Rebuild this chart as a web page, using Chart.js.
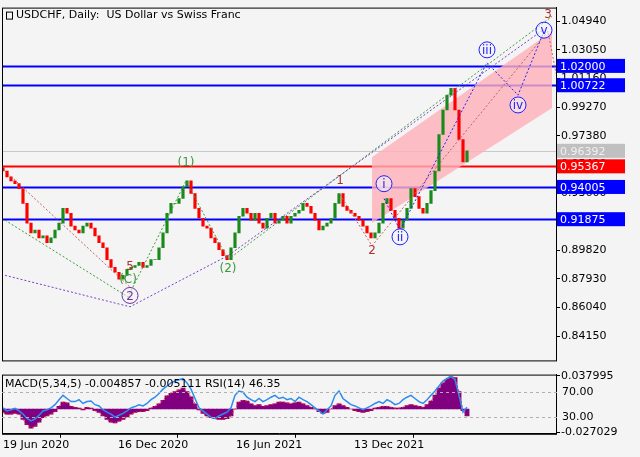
<!DOCTYPE html>
<html>
<head>
<meta charset="utf-8">
<script src="https://cdn.jsdelivr.net/npm/chart.js@4.4.1/dist/chart.umd.min.js"></script>
<style>
  html, body { margin: 0; padding: 0; background: #f4f4f4; }
  #wrap { width: 640px; height: 457px; position: relative; }
  #top { position: absolute; left: 0; top: 0; }
  #bot { position: absolute; left: 0; top: 367px; }
</style>
</head>
<body>
<div id="wrap">
  <canvas id="top" width="640" height="368"></canvas>
  <canvas id="bot" width="640" height="90"></canvas>
</div>
<script>
// closes, one per bar
const closes = [
  0.9506,0.9467,0.9441,0.9422,0.9389,0.9292,0.9162,0.9097,0.9116,0.9064,
  0.9077,0.9032,0.9064,0.9116,0.9162,0.9259,0.9227,0.9142,0.9116,0.9097,
  0.9142,0.9162,0.9129,0.9077,0.9032,0.8999,0.8921,0.8869,0.8837,0.8791,
  0.8817,0.8856,0.8869,0.8882,0.8902,0.8869,0.8882,0.8921,0.8921,0.8999,
  0.9097,0.9227,0.9292,0.9292,0.9324,0.9402,0.9441,0.9357,0.9259,0.9194,
  0.9142,0.9129,0.9064,0.9032,0.8986,0.8947,0.8921,0.8999,0.9097,0.9207,
  0.9259,0.9227,0.9181,0.9227,0.9162,0.9129,0.9194,0.9227,0.9162,0.9181,
  0.9207,0.9162,0.9207,0.9227,0.9246,0.9292,0.9272,0.9227,0.9181,0.9116,
  0.9142,0.9162,0.9194,0.9292,0.9357,0.9272,0.9246,0.9227,0.9207,0.9181,
  0.9142,0.9097,0.9064,0.9097,0.9162,0.9292,0.9324,0.9246,0.9194,0.9129,
  0.9181,0.9259,0.9389,0.9337,0.9259,0.9227,0.9292,0.9376,0.9506,0.9747,
  0.9909,1.0007,1.0052,0.9909,0.9714,0.9565,0.9639
];
const macdHist = [
  -0.004,-0.006,-0.006,-0.005,-0.006, -0.012,-0.018,-0.022,-0.02,-0.015,
  -0.01,-0.008,-0.006,-0.003, 0.003,0.008,0.007,0.003,
  0.002,0.001,-0.001,0.002,0.001,-0.002,-0.004,
  -0.008,-0.012,-0.015,-0.016,-0.014,-0.012,-0.009,
  -0.006,-0.004,-0.003,-0.003,-0.002,0.001,
  0.003,0.006,0.01,0.015,0.018, 0.02,0.022,0.024,0.02,0.014,
  0.006,-0.001,-0.005,-0.008, -0.01,-0.011,-0.012,-0.012,-0.011,-0.008,
  0.0,0.008,0.01,0.009,0.006, 0.004,0.005,0.003,0.004,0.005,
  0.006,0.008,0.008,0.007,0.006,0.007,0.008,0.006,
  0.004,0.002,0.0,-0.003,-0.005,-0.004,0.0, 0.004,0.006,0.004,0.002,0.0,
  -0.002,-0.003,-0.004,-0.003,-0.002, 0.001,0.002,0.003,0.003,0.002,0.001,
  0.001,0.002,0.004,0.005,0.004,0.003,0.002, 0.005,0.009,0.016,0.024,0.03,
  0.034,0.037,0.036,0.02,-0.002,-0.008
];
const rsi = [
  45,40,42,44,40, 35,28,24,27,33, 40,42,45,50, 58,65,60,55,
  55,58,52,55,56,50,48, 42,38,35,30,33,36,40, 45,47,50,48,52,58,
  62,68,75,80,85, 88,90,92,85,75, 60,45,40,35, 30,28,32,35,38,45,
  65,72,70,62,58, 55,60,55,58,62, 65,60,62,58,60,55,62,58,
  55,50,45,40,35,42,48, 65,72,60,55,50, 48,45,42,45,48,
  52,55,52,58,55,50, 52,58,62,65,60,55,52, 58,65,72,80,88,
  92,95,90,65,38,46
];
const priceTicks = [1.0494,1.0305,1.0116,0.9927,0.9738,0.9549,0.936,0.9171,0.8982,0.8793,0.8604,0.8415];
const dateTicks = [0, 28.75, 58.25, 87.75];
const dateLabels = ['19 Jun 2020', '16 Dec 2020', '16 Jun 2021', '13 Dec 2021'];
const levels = [
  { v: 1.02000, c: '#0000ff' }, { v: 1.00722, c: '#0000ff' },
  { v: 0.96392, c: '#c0c0c0', gray: true },
  { v: 0.95367, c: '#ff0000' }, { v: 0.94005, c: '#0000ff' }, { v: 0.91875, c: '#0000ff' }
];
const channelTop = [[92.25, 0.9597], [137.25, 1.0429]];
const channelBot = [[92.25, 0.9162], [137.25, 0.9922]];
const wavePurple = [[0.5, 0.8817], [31.75, 0.8609], [56.25, 0.8947], [135.25, 1.0442]];
const waveGreen = [[0.5, 0.9181], [31.25, 0.8674], [45.75, 0.9441], [56.25, 0.8921], [137.25, 1.0527]];
const waveRed1 = [[0.5, 0.9506], [31.75, 0.8739]];
const waveRed2 = [[84.25, 0.9350], [92.25, 0.9012], [136.25, 1.0429], [138.25, 1.0150]];
const waveBlue = [[95.25, 0.9324], [99.25, 0.9116], [121, 1.0221], [128.75, 1.0007], [135.25, 1.0429]];
const waveLabels = [
  { t: '(1)', c: '#3c9a3c', p: [45.75, 0.9565] },
  { t: '(2)', c: '#3c9a3c', p: [56.25, 0.8869] },
  { t: '(C)', c: '#3c9a3c', p: [31.25, 0.8791] },
  { t: '5', c: '#b03030', p: [31.75, 0.8879] },
  { t: '2', c: '#7030a0', p: [31.75, 0.8684], ring: true },
  { t: '1', c: '#b03030', p: [84.25, 0.9448] },
  { t: '2', c: '#b03030', p: [92.25, 0.8986] },
  { t: 'i', c: '#2020ff', p: [95.25, 0.9422], ring: true },
  { t: 'ii', c: '#2020ff', p: [99.25, 0.9071], ring: true },
  { t: 'iii', c: '#2020ff', p: [121, 1.0306], ring: true },
  { t: 'iv', c: '#2020ff', p: [128.75, 0.9942], ring: true },
  { t: 'v', c: '#2020ff', p: [135.25, 1.0436], ring: true },
  { t: '3', c: '#b03030', p: [136.25, 1.0546] }
];

const FONT = "'DejaVu Sans', sans-serif";
const pts = a => a.map(p => ({ x: p[0], y: p[1] }));
const dashed = (a, color) => ({
  type: 'line', data: pts(a), borderColor: color, borderWidth: 1,
  borderDash: [2, 2], pointRadius: 0, fill: false, order: 1
});
const candles = closes.map((c, i) => ({ x: i, y: [i ? closes[i - 1] : c + 0.002, c] }));
const candleColors = candles.map(d => d.y[1] >= d.y[0] ? '#1a8a1a' : '#ff0000');

const topPlugin = {
  id: 'topDeco',
  beforeDatasetsDraw(chart) {
    const { ctx, chartArea: a, scales: { y } } = chart;
    ctx.save();
    levels.forEach(l => {
      const py = Math.round(y.getPixelForValue(l.v)) + 0.5;
      ctx.strokeStyle = l.gray ? '#c8c8c8' : l.c;
      ctx.lineWidth = l.gray ? 1 : 2;
      ctx.beginPath(); ctx.moveTo(a.left, py); ctx.lineTo(a.right, py); ctx.stroke();
    });
    ctx.restore();
  },
  afterDraw(chart) {
    const { ctx, chartArea: a, scales: { x, y } } = chart;
    ctx.save();
    ctx.textBaseline = 'middle';
    ctx.textAlign = 'center';
    ctx.font = '12px ' + FONT;
    waveLabels.forEach(w => {
      const px = x.getPixelForValue(w.p[0]), py = y.getPixelForValue(w.p[1]);
      if (w.ring) {
        ctx.fillStyle = 'rgba(244,244,244,0.6)';
        ctx.strokeStyle = w.c; ctx.lineWidth = 1;
        ctx.beginPath(); ctx.arc(px, py, 8, 0, Math.PI * 2); ctx.fill(); ctx.stroke();
      }
      ctx.fillStyle = w.c;
      ctx.fillText(w.t, px, py + 1);
    });
    ctx.font = '11px ' + FONT;
    ctx.textAlign = 'left';
    levels.forEach(l => {
      const py = y.getPixelForValue(l.v);
      ctx.fillStyle = l.c;
      ctx.fillRect(a.right + 1, py - 7, 68, 14);
      ctx.fillStyle = l.gray ? '#f0f0f0' : '#ffffff';
      ctx.fillText(l.v.toFixed(5), a.right + 4, py + 1);
    });
    ctx.fillStyle = '#000';
    ctx.fillText('USDCHF, Daily:  US Dollar vs Swiss Franc', a.left + 14, a.top + 8);
    ctx.strokeStyle = '#000'; ctx.lineWidth = 1;
    ctx.strokeRect(a.left + 4.5, a.top + 4.5, 6, 7);
    ctx.strokeRect(a.left + 0.5, a.top + 0.5, a.right - a.left, a.bottom - a.top);
    ctx.restore();
  }
};

new Chart(document.getElementById('top'), {
  data: {
    datasets: [
      { type: 'line', data: pts(channelTop), borderWidth: 0, pointRadius: 0, fill: false, order: 5 },
      { type: 'line', data: pts(channelBot), borderWidth: 0, pointRadius: 0, fill: '-1',
        backgroundColor: 'rgba(255,175,185,0.8)', order: 5 },
      dashed(wavePurple, '#7a3cc8'),
      dashed(waveGreen, '#3c9a3c'),
      dashed(waveRed1, '#c06060'),
      dashed(waveRed2, '#c06060'),
      dashed(waveBlue, '#2020ff'),
      { type: 'bar', data: candles, backgroundColor: candleColors, barThickness: 2.5, order: 2 }
    ]
  },
  options: {
    animation: false, responsive: false,
    layout: { padding: { top: 6, left: 2, bottom: 2, right: 0 } },
    plugins: { legend: { display: false }, tooltip: { enabled: false } },
    scales: {
      x: { type: 'linear', min: -0.25, max: 138.25, offset: false, display: false },
      y: {
        position: 'right', min: 0.8255, max: 1.0585,
        afterBuildTicks: s => { s.ticks = priceTicks.map(v => ({ value: v })); },
        afterFit: s => { s.width = 84; },
        border: { display: true, color: '#000' },
        grid: { drawOnChartArea: false, tickLength: 4, color: '#000' },
        ticks: { color: '#000', font: { family: FONT, size: 11 }, padding: 1, callback: v => v.toFixed(5) }
      }
    }
  },
  plugins: [topPlugin]
});

const botPlugin = {
  id: 'botDeco',
  afterDraw(chart) {
    const { ctx, chartArea: a, scales: { yr } } = chart;
    ctx.save();
    ctx.strokeStyle = '#000'; ctx.lineWidth = 1;
    ctx.strokeRect(a.left + 0.5, a.top + 0.5, a.right - a.left, a.bottom - a.top);
    ctx.font = '11px ' + FONT; ctx.fillStyle = '#000'; ctx.textBaseline = 'middle';
    [70, 30].forEach(v => {
      const py = Math.round(yr.getPixelForValue(v)) + 0.5;
      ctx.strokeStyle = '#b0b0b0'; ctx.setLineDash([3, 3]);
      ctx.beginPath(); ctx.moveTo(a.left, py); ctx.lineTo(a.right + 4, py); ctx.stroke();
      ctx.setLineDash([]);
      ctx.fillText(v.toFixed(2), a.right + 6, py);
    });
    ctx.fillText('MACD(5,34,5) -0.004857 -0.005111 RSI(14) 46.35', a.left + 3, a.top + 10);
    ctx.restore();
  }
};

new Chart(document.getElementById('bot'), {
  data: {
    datasets: [
      { type: 'line', data: rsi.map((v, i) => ({ x: i, y: v })), yAxisID: 'yr', borderColor: '#2a8cf0',
        borderWidth: 1.5, pointRadius: 0, order: 1 },
      { type: 'line', data: macdHist.map((v, i) => ({ x: i, y: v })), yAxisID: 'y', borderColor: '#ff2020',
        borderWidth: 1, borderDash: [2, 2], pointRadius: 0, order: 2 },
      { type: 'bar', data: macdHist.map((v, i) => ({ x: i, y: v })), yAxisID: 'y', backgroundColor: '#800080',
        barThickness: 4.2, order: 3 }
    ]
  },
  options: {
    animation: false, responsive: false,
    layout: { padding: { top: 3, left: 2, bottom: 4, right: 0 } },
    plugins: { legend: { display: false }, tooltip: { enabled: false } },
    scales: {
      x: {
        type: 'linear', min: -0.25, max: 138.25, offset: false,
        afterBuildTicks: s => { s.ticks = dateTicks.map(v => ({ value: v })); },
        border: { display: true, color: '#000' },
        grid: { drawOnChartArea: false, tickLength: 4, color: '#000' },
        ticks: { color: '#000', font: { family: FONT, size: 11 }, align: 'start', maxRotation: 0, padding: 1,
          callback: (v, i) => dateLabels[i] }
      },
      y: {
        position: 'right', min: -0.0285, max: 0.0395,
        afterBuildTicks: s => { s.ticks = [{ value: 0.037995 }, { value: -0.027029 }]; },
        afterFit: s => { s.width = 84; },
        border: { display: true, color: '#000' },
        grid: { drawOnChartArea: false, tickLength: 4, color: '#000' },
        ticks: { color: '#000', font: { family: FONT, size: 11 }, padding: 1, callback: v => v.toFixed(6) }
      },
      yr: { type: 'linear', position: 'right', display: false, min: 3.3, max: 98.3 }
    }
  },
  plugins: [botPlugin]
});
</script>
</body>
</html>
